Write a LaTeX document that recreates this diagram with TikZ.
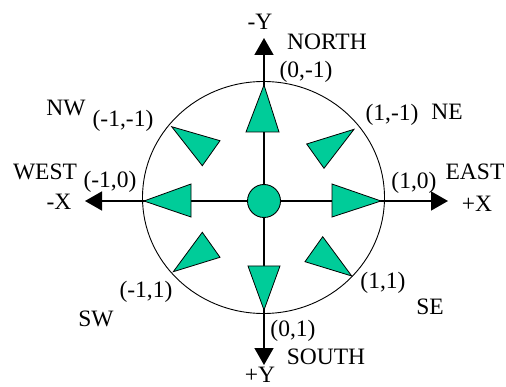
\documentclass[tikz,border=0pt]{standalone}
\usepackage{fontspec}
\setmainfont{Liberation Serif}
\usetikzlibrary{arrows.meta}
\definecolor{tealgreen}{RGB}{0,204,153}
\begin{document}
\begin{tikzpicture}[x=1pt,y=-1pt,
  lbl/.style={font=\fontsize{23.5}{23.5}\selectfont, inner sep=0pt},
  axis/.style={line width=1.6pt, -{Triangle[length=17pt,width=19pt]}},
  wedge/.style={fill=tealgreen, draw=black, line width=0.8pt, line join=miter},
  ring/.style={draw=black, line width=0.9pt}]
\useasboundingbox (0,0) rectangle (506,387);
% outer ring
\draw[ring] (263.5,197.5) ellipse [x radius=121, y radius=116];
% axes
\coordinate (O) at (264,201);
\coordinate (Ntip) at (264,38);
\coordinate (Stip) at (264,365);
\coordinate (Wtip) at (85,201);
\coordinate (Etip) at (448,201);
\draw[axis] (O) -- (Ntip);
\draw[axis] (O) -- (Stip);
\draw[axis] (O) -- (Wtip);
\draw[axis] (O) -- (Etip);
% green pointers
\draw[wedge] (264,85) -- (246,132) -- (279,132) -- cycle;
\draw[wedge] (264,310) -- (248,266) -- (280,266) -- cycle;
\draw[wedge] (144,201) -- (191,184) -- (191,217) -- cycle;
\draw[wedge] (381,201) -- (332,184) -- (332,217) -- cycle;
\draw[wedge] (171.7,126.7) -- (220,140.7) -- (202.3,165.7) -- cycle;
\draw[wedge] (354,129.3) -- (306.7,144) -- (324,168.3) -- cycle;
\draw[wedge] (173.3,271.7) -- (202.3,232.3) -- (220,257.3) -- cycle;
\draw[wedge] (351.7,276) -- (322.7,236.7) -- (305,261.7) -- cycle;
% centre
\node[circle, minimum size=33pt, inner sep=0pt, fill=tealgreen, draw=black, line width=0.9pt] (C) at (O) {};
% labels
\node[lbl] (lmy) at (260,22) {-Y};
\node[lbl] (lnorth) at (327,42) {NORTH};
\node[lbl] (l0m1) at (306,72) {(0,-1)};
\node[lbl] (lnw) at (66,108) {NW};
\node[lbl] (lm1m1) at (123,121) {(-1,-1)};
\node[lbl] (l1m1) at (392,115) {(1,-1)};
\node[lbl] (lne) at (447,112) {NE};
\node[lbl] (lwest) at (45,172) {WEST};
\node[lbl] (lm10) at (110,182) {(-1,0)};
\node[lbl] (lmx) at (59,202) {-X};
\node[lbl] (l10) at (414,183) {(1,0)};
\node[lbl] (least) at (475,172) {EAST};
\node[lbl] (lpx) at (477,204) {+X};
\node[lbl] (lm11) at (146,292) {(-1,1)};
\node[lbl] (lsw) at (96,319) {SW};
\node[lbl] (l11) at (383,283) {(1,1)};
\node[lbl] (lse) at (430,307) {SE};
\node[lbl] (l01) at (293,331) {(0,1)};
\node[lbl] (lsouth) at (326,357) {SOUTH};
\node[lbl, anchor=north] (lpy) at (260,367) {+Y};
\end{tikzpicture}
\end{document}
